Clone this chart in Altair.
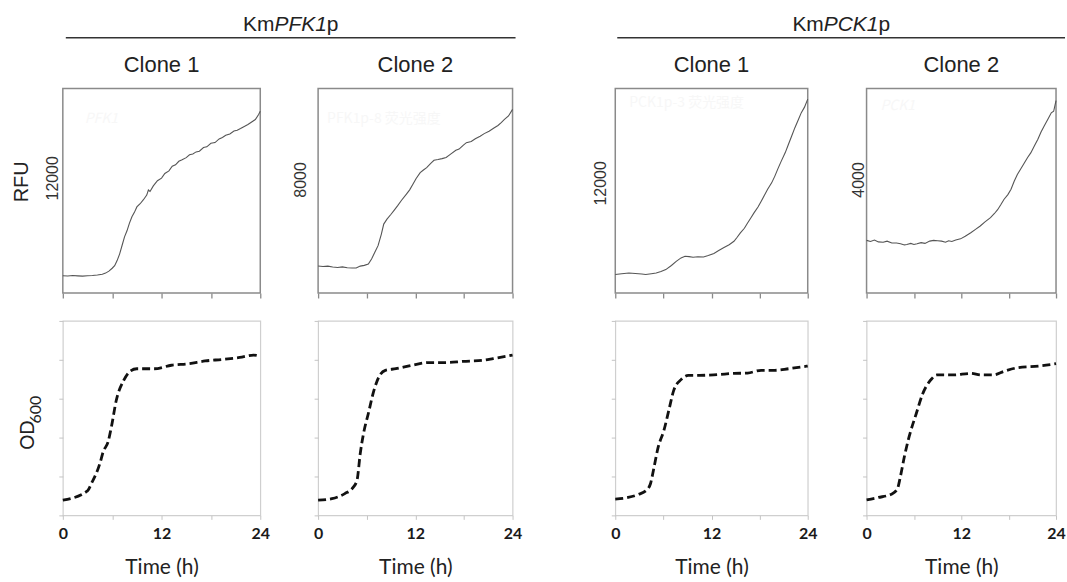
import altair as alt
import pandas as pd

# ---------------- data ----------------
# RFU curves (top row)
rfu1_t = [0, 0.6, 1.2, 1.8, 2.4, 3.0, 3.6, 4.2, 4.8, 5.2, 5.6, 6.0, 6.3, 6.6, 6.9, 7.2, 7.5, 7.8, 8.1, 8.4,
          8.7, 9.0, 9.4, 9.8, 10.2, 10.4, 10.6, 11.0, 11.5, 12.0, 12.4, 12.9, 13.3, 13.7, 14.1, 14.5, 15.0,
          15.4, 15.8, 16.2, 16.6, 17.1, 17.5, 18.0, 18.5, 19.0, 19.4, 19.8, 20.3, 20.8, 21.2, 21.6, 22.0,
          22.5, 23.0, 23.4, 23.8, 24.0]
rfu1_v = [5200, 5180, 5210, 5190, 5170, 5200, 5220, 5250, 5300, 5380, 5520, 5720, 5900, 6250, 6700, 7300,
          7900, 8320, 8850, 9300, 9600, 9980, 10200, 10480, 10800, 11150, 11050, 11440, 11800, 11980, 12300,
          12480, 12800, 12900, 13150, 13250, 13400, 13600, 13650, 13800, 13850, 14100, 14150, 14400, 14450,
          14700, 14800, 14950, 15050, 15250, 15300, 15420, 15550, 15700, 15900, 16050, 16400, 16620]

rfu2_t = [0, 0.6, 1.2, 1.8, 2.4, 3.0, 3.6, 4.2, 4.7, 5.2, 5.7, 6.2, 6.6, 7.0, 7.4, 7.8, 8.1, 8.5, 9.0, 9.4,
          9.8, 10.3, 10.9, 11.3, 11.7, 12.1, 12.6, 13.0, 13.4, 13.9, 14.3, 14.8, 15.3, 15.8, 16.4, 17.0,
          17.4, 17.9, 18.3, 18.9, 19.4, 20.0, 20.5, 21.1, 21.7, 22.2, 22.6, 23.0, 23.5, 24.0]
rfu2_v = [3430, 3400, 3420, 3370, 3350, 3380, 3330, 3320, 3320, 3420, 3460, 3530, 3800, 4150, 4500, 5100,
          5640, 5900, 6160, 6380, 6600, 6900, 7220, 7450, 7750, 8050, 8360, 8500, 8620, 8850, 9010, 9050,
          9100, 9160, 9350, 9540, 9600, 9800, 9940, 10000, 10150, 10280, 10420, 10550, 10720, 10850,
          11000, 11170, 11350, 11700]

rfu3_t = [0, 0.8, 1.7, 2.5, 3.3, 3.8, 4.5, 5.1, 5.7, 6.3, 7.0, 7.6, 8.2, 8.7, 9.2, 9.7, 10.3, 11.0, 11.6,
          12.3, 12.9, 13.5, 14.2, 14.8, 15.2, 15.6, 16.1, 16.5, 16.9, 17.3, 17.8, 18.2, 18.6, 19.0, 19.5,
          19.9, 20.3, 20.7, 21.2, 21.6, 22.0, 22.4, 22.8, 23.2, 23.6, 24.0]
rfu3_v = [5340, 5400, 5450, 5420, 5380, 5340, 5400, 5450, 5560, 5700, 6000, 6300, 6550, 6670, 6640, 6600,
          6630, 6620, 6720, 6870, 7080, 7280, 7500, 7760, 8050, 8370, 8700, 9090, 9450, 9820, 10250, 10670,
          11100, 11530, 12000, 12490, 13050, 13580, 14200, 14800, 15400, 16010, 16550, 17100, 17500, 18080]

rfu4_t = [0, 0.5, 1.0, 1.5, 2.1, 2.6, 3.2, 3.8, 4.3, 4.8, 5.1, 5.6, 6.0, 6.4, 6.9, 7.4, 8.0, 8.5, 9.0, 9.5,
          10.0, 10.4, 10.8, 11.3, 11.9, 12.5, 13.2, 13.8, 14.4, 15.0, 15.7, 16.2, 16.6, 17.0, 17.4, 17.9,
          18.3, 18.7, 19.1, 19.6, 20.0, 20.4, 20.8, 21.3, 21.7, 22.1, 22.5, 23.0, 23.4, 23.7, 24.0]
rfu4_v = [2390, 2360, 2400, 2350, 2340, 2370, 2320, 2320, 2300, 2270, 2280, 2310, 2280, 2300, 2330, 2310,
          2370, 2390, 2380, 2370, 2340, 2380, 2360, 2400, 2430, 2500, 2590, 2680, 2770, 2880, 2990, 3100,
          3200, 3330, 3470, 3600, 3740, 3950, 4130, 4300, 4440, 4580, 4700, 4900, 5060, 5250, 5410, 5600,
          5760, 5800, 6080]

# OD600 curves (bottom row)
od1_t = [0, 3.0, 3.5, 4.5, 4.9, 5.5, 5.9, 6.5, 7.4, 8.2, 9.0, 11.1, 13.2, 15.3, 17.3, 19.4, 21.5, 23.2, 24]
od1_v = [0.39, 0.63, 0.83, 1.33, 1.63, 1.89, 2.27, 2.96, 3.47, 3.71, 3.77, 3.77, 3.86, 3.90, 3.97, 4.01,
         4.06, 4.12, 4.09]
od2_t = [0, 1.7, 3.3, 4.2, 4.8, 5.2, 5.6, 6.2, 6.9, 7.5, 8.3, 9.6, 11.6, 13.7, 15.8, 17.9, 20.4, 21.6, 24]
od2_v = [0.39, 0.43, 0.56, 0.69, 0.90, 1.59, 2.10, 2.62, 3.22, 3.56, 3.73, 3.77, 3.86, 3.93, 3.93, 3.96,
         3.99, 4.03, 4.12]
od3_t = [0, 1.6, 2.9, 3.9, 4.4, 4.8, 5.3, 6.1, 6.7, 7.3, 8.2, 9.1, 10.5, 12.7, 14.8, 16.5, 18.2, 19.9, 21.6, 24]
od3_v = [0.42, 0.46, 0.54, 0.65, 0.82, 1.20, 1.71, 2.21, 2.72, 3.22, 3.49, 3.60, 3.60, 3.62, 3.65, 3.66,
         3.73, 3.73, 3.77, 3.84]
od4_t = [0, 1.5, 3.2, 3.9, 4.3, 4.8, 5.4, 6.3, 7.1, 8.2, 8.9, 11.0, 13.2, 14.5, 16.0, 17.5, 19.2, 21.8, 24]
od4_v = [0.40, 0.46, 0.55, 0.68, 1.01, 1.52, 2.03, 2.62, 3.12, 3.50, 3.61, 3.61, 3.65, 3.61, 3.61, 3.71,
         3.80, 3.84, 3.90]

# axis settings / labels
rfu_domains = [[4000, 18200], [2000, 12800], [4000, 18850], [1000, 6400]]
rfu_label_values = [12000, 8000, 12000, 4000]
od_domain = [0, 5]
od_ticks = [0, 1, 2, 3, 4, 5]
time_ticks = [0, 6, 12, 18, 24]
clone_labels = ["Clone 1", "Clone 2", "Clone 1", "Clone 2"]
promoter_parts = [["Km", "PFK1", "p"], ["Km", "PCK1", "p"]]
watermarks = ["PFK1", "PFK1p-8 荧光强度", "PCK1p-3 荧光强度", "PCK1"]
rfu_title = "RFU"
od_title = "OD"
od_sub = "600"
time_title = "Time (h)"

# ---------------- layout / style ----------------
ARIAL = "Liberation Sans"
CAL = "Lato"
col_w = [198, 195, 193, 190]
gap_w = [58, 103, 59]
top_h = 205
bot_h = 195
label_pads = [2, 10, 7, 0]
wm_pos = [(22, 31), (9, 31), (14, 14), (14, 17)]
# header geometry (relative to the first panel of each group)
hdr_split = [212.25, 209.1]
hdr_p_left = [264.75, 263.95]
hdr_rule = [(3, 454), (2, 451)]


def txt(s, x, y, size, align="center", style="normal", color="#222222", font=ARIAL,
        angle=0, baseline="alphabetic", weight="normal"):
    return alt.Chart(pd.DataFrame({"s": [s]})).mark_text(
        font=font, fontSize=size, align=align, baseline=baseline, color=color,
        fontStyle=style, angle=angle, fontWeight=weight
    ).encode(text="s:N", x=alt.value(x), y=alt.value(y))


def top_panel(i, t, v):
    w = col_w[i]
    df = pd.DataFrame({"t": t, "v": v})
    yaxis_kw = dict(values=[rfu_label_values[i]], labelAngle=270, labelAlign="center",
                    labelBaseline="bottom", labelPadding=label_pads[i], ticks=False, tickSize=0,
                    domain=False, grid=False, labelFont=ARIAL, labelFontSize=16,
                    labelColor="#333333", format="d")
    if i == 0:
        yaxis = alt.Axis(title=rfu_title, titleAngle=270, titleAlign="center",
                         titleBaseline="bottom", titleX=-31, titleY=93, titleFont=ARIAL,
                         titleFontSize=20, titleFontWeight="normal", titleColor="#222222",
                         **yaxis_kw)
    else:
        yaxis = alt.Axis(title=None, **yaxis_kw)
    line = alt.Chart(df).mark_line(color="#555555", strokeWidth=1.1).encode(
        x=alt.X("t:Q", scale=alt.Scale(domain=[0, 24], nice=False, zero=False),
                axis=alt.Axis(values=time_ticks, labels=False, tickSize=5, tickColor="#8a8a8a",
                              tickWidth=1.3, domain=False, grid=False, title=None)),
        y=alt.Y("v:Q", scale=alt.Scale(domain=rfu_domains[i], nice=False, zero=False), axis=yaxis),
    )
    layers = [line,
              txt(clone_labels[i], w / 2, -16.7, 22),
              txt(watermarks[i], wm_pos[i][0], wm_pos[i][1], 14, align="left",
                  color="#f7f7f7", font="Noto Sans CJK SC", baseline="middle",
                  style="italic" if i in (0, 3) else "normal")]
    if i in (0, 2):
        g = 0 if i == 0 else 1
        parts = promoter_parts[g]
        layers += [
            txt(parts[0], hdr_split[g], -58, 21, align="right"),
            txt(parts[1], hdr_split[g], -58, 21, align="left", style="italic"),
            txt(parts[2], hdr_p_left[g], -58, 21, align="left"),
            alt.Chart(pd.DataFrame({"a": [0]})).mark_rule(color="#333333", strokeWidth=1.6).encode(
                x=alt.value(hdr_rule[g][0]), x2=alt.value(hdr_rule[g][1]),
                y=alt.value(-51)),
        ]
    return alt.layer(*layers).properties(
        width=w, height=top_h,
        view=alt.ViewBackground(stroke="#8a8a8a", strokeWidth=1.5))


def bottom_panel(i, t, v):
    w = col_w[i]
    df = pd.DataFrame({"t": t, "v": v})
    yaxis_kw = dict(values=od_ticks, labels=False, tickSize=4, tickColor="#c4c4c4", tickWidth=1,
                    domain=False, grid=False)
    if i == 0:
        yaxis = alt.Axis(title=od_title, titleAngle=270, titleAlign="center", titleBaseline="bottom",
                         titleX=-25, titleY=114, titleFont=CAL, titleFontSize=19,
                         titleFontWeight="normal", titleColor="#222222", **yaxis_kw)
    else:
        yaxis = alt.Axis(title=None, **yaxis_kw)
    line = alt.Chart(df).mark_line(color="#111111", strokeWidth=2.8, strokeDash=[8, 4],
                                   interpolate="monotone").encode(
        x=alt.X("t:Q", scale=alt.Scale(domain=[0, 24], nice=False, zero=False),
                axis=alt.Axis(values=time_ticks,
                              labelExpr="datum.value % 12 === 0 ? datum.label : ''",
                              tickSize=4, tickColor="#c4c4c4", tickWidth=1, domain=False,
                              grid=False, labelFlush=False, labelOverlap=False, labelFont=CAL,
                              labelFontWeight="bold", labelFontSize=16, labelColor="#1a1a1a",
                              labelPadding=6, title=time_title, titleFont=CAL, titleFontSize=21,
                              titleFontWeight="normal", titleColor="#222222",
                              titleBaseline="alphabetic", titleY=58)),
        y=alt.Y("v:Q", scale=alt.Scale(domain=od_domain, nice=False, zero=False), axis=yaxis),
    )
    layers = [line]
    if i == 0:
        layers.append(txt(od_sub, -19, 89, 16, angle=270, baseline="bottom", font=CAL))
    return alt.layer(*layers).properties(
        width=w, height=bot_h,
        view=alt.ViewBackground(stroke="#cfcfcf", strokeWidth=1.2))


def spacer(w, h):
    return alt.Chart(pd.DataFrame({"a": [0]})).mark_point(opacity=0).encode(
        x=alt.value(0), y=alt.value(0)).properties(
        width=w, height=h, view=alt.ViewBackground(stroke="transparent"))


tops = [top_panel(0, rfu1_t, rfu1_v), top_panel(1, rfu2_t, rfu2_v),
        top_panel(2, rfu3_t, rfu3_v), top_panel(3, rfu4_t, rfu4_v)]
bots = [bottom_panel(0, od1_t, od1_v), bottom_panel(1, od2_t, od2_v),
        bottom_panel(2, od3_t, od3_v), bottom_panel(3, od4_t, od4_v)]

row1 = [tops[0], spacer(gap_w[0], top_h), tops[1], spacer(gap_w[1], top_h), tops[2],
        spacer(gap_w[2], top_h), tops[3]]
row2 = [bots[0], spacer(gap_w[0], bot_h), bots[1], spacer(gap_w[1], bot_h), bots[2],
        spacer(gap_w[2], bot_h), bots[3]]

chart = alt.concat(*(row1 + row2), columns=7, spacing={"row": 28, "column": 0},
                   bounds="flush").properties(
    padding={"left": 11, "top": 12, "right": 0, "bottom": 0}
).configure(background="white")

chart.save("out.html", embed_options={"renderer": "svg", "actions": False})
